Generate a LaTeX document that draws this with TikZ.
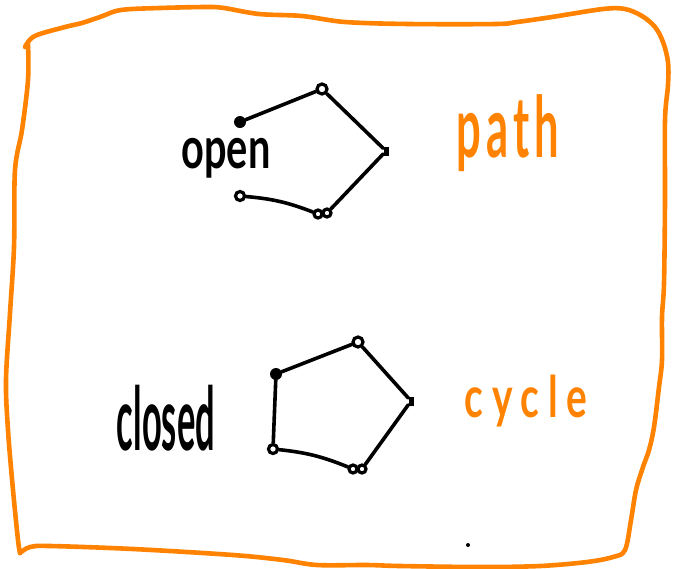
\documentclass[tikz,border=0pt]{standalone}
\usepackage{fontspec}
\setmainfont{Lato}
\usepackage{graphicx}
\definecolor{sketchorange}{RGB}{255,130,0}
\begin{document}
\begin{tikzpicture}[x=1pt,y=-1pt,
  ink/.style={line width=3.6pt, line cap=round, line join=round},
  frame/.style={draw=sketchorange, line width=4.6pt, line cap=round, line join=round},
  blob/.style={circle, fill=black, inner sep=0pt, minimum size=12pt},
  ring/.style={circle, draw=black, line width=3.2pt, inner sep=0pt, minimum size=10pt},
  tick/.style={rectangle, fill=black, inner sep=0pt, minimum width=5pt, minimum height=9pt},
  word/.style={inner sep=0pt, font=\bfseries},
  speck/.style={circle, fill=black, inner sep=0pt, minimum size=4pt},
]
\useasboundingbox (0,0) rectangle (676,568);

% hand-drawn orange frame: top, right and bottom edges
\draw[frame] plot[smooth, tension=0.55] coordinates {
  (25,47) (28,42) (33,37) (43,33) (69,26) (82,23) (100,17) (121,10)
  (160,8) (207,7) (224,8) (259,14) (302,16) (345,22) (409,24) (496,24)
  (517,22) (552,17) (603,9) (625,9) (642,16) (655,27) (663,42) (668,62)
  (668,85) (665,120) (665,200) (664,283) (662,317) (662,360) (659,387)
  (654,427) (649,450) (643,467) (636,490) (631,520) (625,550) (613,557)
  (587,562) (540,566) (480,567) (400,566) (367,565) (317,565) (283,560)
  (233,555) (133,549) (50,546) (30,547) (20,553)};
% left edge
\draw[frame] plot[smooth, tension=0.55] coordinates {
  (20,553) (18,540) (13,490) (8,430) (6,380) (10,313) (14,247) (15,170)
  (22,130) (28,80) (28,44)};

% open walk: a path
\node[blob] (oa) at (240,122) {};
\node[ring] (ob) at (322,89) {};
\node[tick] (oc) at (386,151) {};
\node[ring, minimum size=8pt] (od) at (327,213) {};
\node[ring, minimum size=8pt] (odb) at (318,214) {};
\node[ring, minimum size=9pt] (oe) at (240,196) {};
\draw[ink] (oa) -- (ob);
\draw[ink] (ob) -- (oc);
\draw[ink] (oc) -- (od);
\draw[ink] (odb) to[bend right=8] (oe);

% closed walk: a cycle
\node[blob] (ca) at (276,374) {};
\node[ring] (cb) at (358,342) {};
\node[tick] (cc) at (411,401) {};
\node[ring, minimum size=8pt] (cd) at (362,469) {};
\node[ring, minimum size=8pt] (cdb) at (353,469) {};
\node[ring, minimum size=9pt] (ce) at (273,449) {};
\draw[ink] (ca) -- (cb);
\draw[ink] (cb) -- (cc);
\draw[ink] (cc) -- (cd);
\draw[ink] (ce) to[bend left=8] (cdb);
\draw[ink] (ce) -- (ca);

% labels
\node[word] (lopen) at (226,158) {\resizebox*{89pt}{40pt}{open}};
\node[word] (lclosed) at (166,418) {\resizebox*{98pt}{66pt}{closed}};
\node[word, text=sketchorange] (lpath) at (508,133)
  {\resizebox*{103pt}{77pt}{\addfontfeature{LetterSpace=12}path}};
\node[word, text=sketchorange] (lcycle) at (526,401)
  {\resizebox*{122pt}{52pt}{\addfontfeature{LetterSpace=22}cycle}};

\node[speck] (stray) at (468,545) {};
\end{tikzpicture}
\end{document}
